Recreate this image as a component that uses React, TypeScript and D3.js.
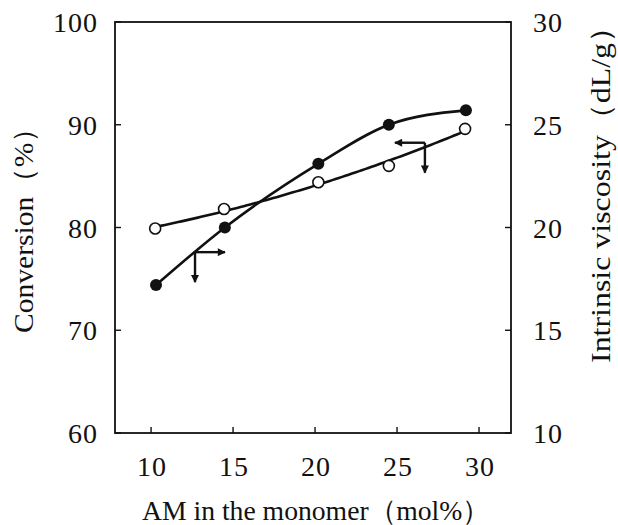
import React from 'react';
import * as d3 from 'd3';

// chart size
const width = 618;
const height = 525;

// plot frame (pixels)
const frame = { left: 115, right: 511, top: 22, bottom: 433 };

// data
const amContent = [10.3, 14.5, 20.2, 24.5, 29.2];
const viscosity = [17.2, 20.0, 23.1, 25.0, 25.7]; // filled circles, right axis
const amOpen = [10.25, 14.45, 20.2, 24.5, 29.15];
const conversion = [79.9, 81.8, 84.4, 86.0, 89.6]; // open circles, left axis

const xTicks = [10, 15, 20, 25, 30];
const leftTicks = [60, 70, 80, 90, 100];
const rightTicks = [10, 15, 20, 25, 30];

// arrow annotations: [x, conversion y, direction]
const arrows: [number, number, 'right' | 'left'][] = [
  [12.68, 77.6, 'right'],
  [26.7, 88.25, 'left'],
];

const font = '"Liberation Serif", "Times New Roman", serif';
const ink = '#111';

// least-squares quadratic fit, used for the smooth line through the open circles
const quadFit = (xs: number[], ys: number[]) => {
  const s = [0, 0, 0, 0, 0];
  const t = [0, 0, 0];
  xs.forEach((x, i) => {
    for (let k = 0; k < 5; k++) s[k] += Math.pow(x, k);
    for (let k = 0; k < 3; k++) t[k] += Math.pow(x, k) * ys[i];
  });
  const m = [
    [s[0], s[1], s[2], t[0]],
    [s[1], s[2], s[3], t[1]],
    [s[2], s[3], s[4], t[2]],
  ];
  for (let c = 0; c < 3; c++) {
    for (let r = c + 1; r < 3; r++) {
      const f = m[r][c] / m[c][c];
      for (let k = c; k < 4; k++) m[r][k] -= f * m[c][k];
    }
  }
  const a = [0, 0, 0];
  for (let r = 2; r >= 0; r--) {
    let v = m[r][3];
    for (let k = r + 1; k < 3; k++) v -= m[r][k] * a[k];
    a[r] = v / m[r][r];
  }
  return (x: number) => a[0] + a[1] * x + a[2] * x * x;
};

const App = () => {
  const x = d3.scaleLinear().domain([7.8, 31.95]).range([frame.left, frame.right]);
  const yL = d3.scaleLinear().domain([60, 100]).range([frame.bottom, frame.top]);
  const yR = d3.scaleLinear().domain([10, 30]).range([frame.bottom, frame.top]);

  const filledPts = amContent.map((a, i) => [x(a), yR(viscosity[i])] as [number, number]);
  const openPts = amOpen.map((a, i) => [x(a), yL(conversion[i])] as [number, number]);

  const filledLine = d3.line().curve(d3.curveMonotoneX)(filledPts) || '';

  const fit = quadFit(amOpen, conversion);
  const fitX = d3.range(amOpen[0], amOpen[amOpen.length - 1] + 0.001, 0.2);
  const openLine =
    d3
      .line<number>()
      .x((d) => x(d))
      .y((d) => yL(fit(d)))(fitX) || '';

  const tick = 6;
  const armLen = 30;

  return (
    <svg
      width={width}
      height={height}
      style={{ position: 'absolute', left: 0, top: 0, background: '#fff' }}
    >
      <defs>
        <marker id="head" viewBox="0 0 10 10" refX="9" refY="5" markerWidth="9" markerHeight="8" orient="auto" markerUnits="userSpaceOnUse">
          <path d="M0,0 L10,5 L0,10 Z" fill={ink} />
        </marker>
      </defs>

      {/* frame */}
      <rect
        x={frame.left}
        y={frame.top}
        width={frame.right - frame.left}
        height={frame.bottom - frame.top}
        fill="none"
        stroke={ink}
        strokeWidth={1.8}
      />

      {/* x ticks */}
      {xTicks.map((t) => (
        <g key={'x' + t}>
          <line x1={x(t)} x2={x(t)} y1={frame.bottom} y2={frame.bottom - tick} stroke={ink} strokeWidth={1.4} />
          <text x={x(t) + 1} y={476} textAnchor="middle" fontFamily={font} fontSize={28} letterSpacing={1} fill={ink}>
            {t}
          </text>
        </g>
      ))}

      {/* left ticks */}
      {leftTicks.map((t) => (
        <g key={'l' + t}>
          <line x1={frame.left} x2={frame.left + tick} y1={yL(t)} y2={yL(t)} stroke={ink} strokeWidth={1.4} />
          <text x={98} y={yL(t) + 10} textAnchor="end" fontFamily={font} fontSize={28} letterSpacing={1} fill={ink}>
            {t}
          </text>
        </g>
      ))}

      {/* right ticks */}
      {rightTicks.map((t) => (
        <g key={'r' + t}>
          <line x1={frame.right} x2={frame.right - tick} y1={yR(t)} y2={yR(t)} stroke={ink} strokeWidth={1.4} />
          <text x={533} y={yR(t) + 10} textAnchor="start" fontFamily={font} fontSize={28} letterSpacing={1} fill={ink}>
            {t}
          </text>
        </g>
      ))}

      {/* axis titles */}
      <text
        x={142}
        y={520}
        textLength={348}
        lengthAdjust="spacingAndGlyphs"
        fontFamily={font}
        fontSize={28}
        fill={ink}
      >
        AM in the monomer（mol%）
      </text>
      <text
        transform="translate(33,333) rotate(-90)"
        textLength={220}
        lengthAdjust="spacingAndGlyphs"
        fontFamily={font}
        fontSize={28}
        fill={ink}
      >
        Conversion（%）
      </text>
      <text
        transform="translate(610,363) rotate(-90)"
        textLength={352}
        lengthAdjust="spacingAndGlyphs"
        fontFamily={font}
        fontSize={28}
        fill={ink}
      >
        Intrinsic viscosity（dL/g）
      </text>

      {/* curves */}
      <path d={openLine} fill="none" stroke={ink} strokeWidth={2.6} />
      <path d={filledLine} fill="none" stroke={ink} strokeWidth={2.6} />

      {/* markers */}
      {openPts.map(([px, py], i) => (
        <circle key={'o' + i} cx={px} cy={py} r={5.5} fill="#fff" stroke={ink} strokeWidth={1.6} />
      ))}
      {filledPts.map(([px, py], i) => (
        <circle key={'f' + i} cx={px} cy={py} r={6} fill={ink} />
      ))}

      {/* arrows */}
      {arrows.map(([ax, ay, dir], i) => {
        const cx = x(ax);
        const cy = yL(ay);
        const hx = dir === 'right' ? cx + armLen : cx - armLen;
        return (
          <g key={'a' + i}>
            <line x1={cx} y1={cy} x2={hx} y2={cy} stroke={ink} strokeWidth={2.4} markerEnd="url(#head)" />
            <line x1={cx} y1={cy} x2={cx} y2={cy + armLen} stroke={ink} strokeWidth={2.4} markerEnd="url(#head)" />
          </g>
        );
      })}
    </svg>
  );
};

export default App;
